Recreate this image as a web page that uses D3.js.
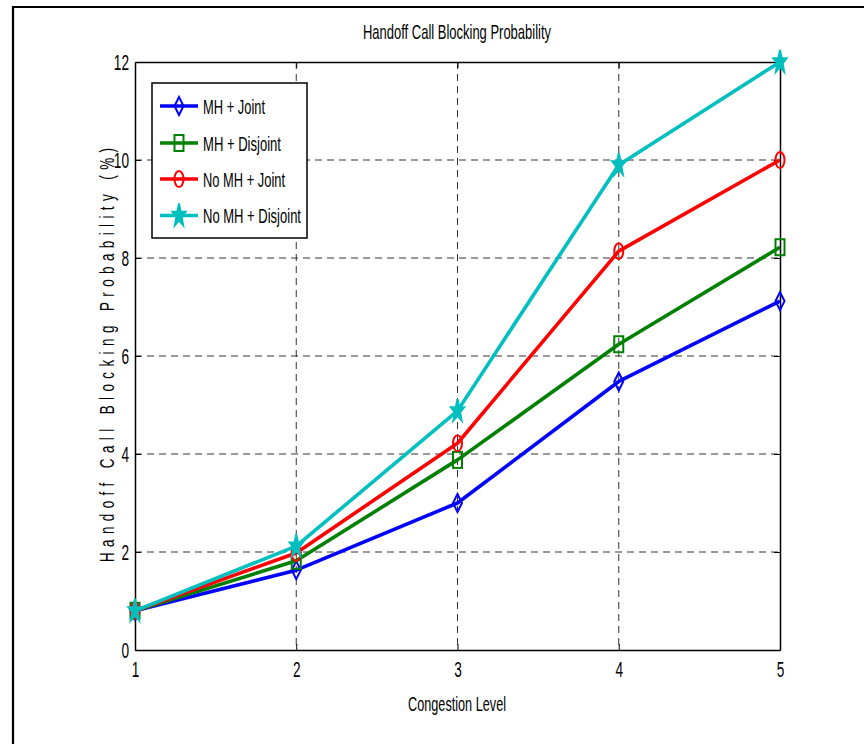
<!DOCTYPE html>
<html>
<head>
<meta charset="utf-8">
<script src="https://cdn.jsdelivr.net/npm/d3@7"></script>
<style>
  html, body { margin: 0; padding: 0; background: #fff; }
  svg { display: block; }
  text { font-family: "Liberation Sans", Arial, sans-serif; fill: #000; }
</style>
</head>
<body>
<svg id="chart" width="864" height="744"></svg>
<script>
// Congestion levels on the x axis
const congestionLevels = [1, 2, 3, 4, 5];

// Handoff call blocking probability (%) for each scheme
const mhJoint       = [0.8, 1.63, 3.0, 5.48, 7.12];
const mhDisjoint    = [0.8, 1.82, 3.88, 6.24, 8.22];
const noMhJoint     = [0.8, 1.98, 4.22, 8.14, 10.0];
const noMhDisjoint  = [0.8, 2.12, 4.88, 9.9, 12.0];

const seriesNames   = ["MH + Joint", "MH + Disjoint", "No MH + Joint", "No MH + Disjoint"];
const seriesValues  = [mhJoint, mhDisjoint, noMhJoint, noMhDisjoint];
const seriesColors  = ["#0000ff", "#008000", "#ff0000", "#00bfbf"];
const seriesMarkers = ["diamond", "square", "circle", "star"];

const xTicks = [1, 2, 3, 4, 5];
const yTicks = [0, 2, 4, 6, 8, 10, 12];

const titleText  = "Handoff Call Blocking Probability";
const xLabelText = "Congestion Level";
const yLabelText = "Handoff Call Blocking Probability (%)";

const svg = d3.select("#chart");
const plotLeft = 135, plotRight = 780, plotTop = 62, plotBottom = 650;
const squeeze = 0.62;   // condensed glyph width

const x = d3.scaleLinear().domain([1, 5]).range([plotLeft, plotRight]);
const y = d3.scaleLinear().domain([0, 12]).range([plotBottom, plotTop]);

// outer frame (left and top edges)
svg.append("line").attr("x1", 13).attr("x2", 13).attr("y1", 6).attr("y2", 744)
  .attr("stroke", "#000").attr("stroke-width", 2.2);
svg.append("line").attr("x1", 12).attr("x2", 864).attr("y1", 7).attr("y2", 7)
  .attr("stroke", "#000").attr("stroke-width", 2.2);

// dashed grid
const grid = svg.append("g");
grid.selectAll(".gx").data(xTicks.slice(1, -1)).join("line")
  .attr("x1", d => x(d)).attr("x2", d => x(d)).attr("y1", plotTop).attr("y2", plotBottom)
  .attr("stroke", "#333").attr("stroke-width", 1).attr("stroke-dasharray", "7,5");
grid.selectAll(".gy").data(yTicks.slice(1, -1)).join("line")
  .attr("x1", plotLeft).attr("x2", plotRight).attr("y1", d => y(d)).attr("y2", d => y(d))
  .attr("stroke", "#333").attr("stroke-width", 1).attr("stroke-dasharray", "7,5");

// axes with inward ticks
const axisStyle = g => {
  g.select(".domain").attr("stroke", "#000").attr("stroke-width", 1.5);
  g.selectAll(".tick line").attr("stroke", "#000");
  g.selectAll(".tick text").attr("font-size", 22)
    .attr("font-family", "'Liberation Sans', Arial, sans-serif").attr("fill", "#000");
};
const yAxis = svg.append("g").attr("transform", `translate(${plotLeft},0)`)
  .call(d3.axisLeft(y).tickValues(yTicks).tickSizeInner(-6).tickSizeOuter(0).tickPadding(6)
    .tickFormat(d3.format("d")))
  .call(axisStyle);
yAxis.selectAll(".tick text").attr("transform", function () {
  const tx = +d3.select(this).attr("x");
  return `translate(${tx},0) scale(${squeeze},1) translate(${-tx},0)`;
});
const xAxis = svg.append("g").attr("transform", `translate(0,${plotBottom})`)
  .call(d3.axisBottom(x).tickValues(xTicks).tickSizeInner(-6).tickSizeOuter(0).tickPadding(11)
    .tickFormat(d3.format("d")))
  .call(axisStyle);
xAxis.selectAll(".tick text").attr("transform", `scale(${squeeze},1)`);

// top and right axes (box)
svg.append("g").attr("transform", `translate(${plotRight},0)`)
  .call(d3.axisRight(y).tickValues(yTicks).tickSizeInner(-6).tickSizeOuter(0).tickFormat(""))
  .call(axisStyle);
svg.append("g").attr("transform", `translate(0,${plotTop})`)
  .call(d3.axisTop(x).tickValues(xTicks).tickSizeInner(-6).tickSizeOuter(0).tickFormat(""))
  .call(axisStyle);

// marker shapes (tall, narrow)
function drawMarker(g, type, color) {
  let shape;
  if (type === "diamond") {
    shape = g.append("path").attr("d", "M0,-9 L4.5,0 L0,9 L-4.5,0 Z").attr("fill", "none");
  } else if (type === "square") {
    shape = g.append("rect").attr("x", -4.5).attr("y", -8).attr("width", 9).attr("height", 16)
      .attr("fill", "none");
  } else if (type === "circle") {
    shape = g.append("ellipse").attr("rx", 4.5).attr("ry", 8).attr("fill", "none");
  } else {
    const pts = [];
    for (let i = 0; i < 10; i++) {
      const a = -Math.PI / 2 + i * Math.PI / 5;
      const r = i % 2 === 0 ? 1 : 0.4;
      pts.push([Math.cos(a) * r * 7, Math.sin(a) * r * 12]);
    }
    shape = g.append("path").attr("d", "M" + pts.map(p => p.join(",")).join("L") + "Z")
      .attr("fill", color);
  }
  shape.attr("stroke", color).attr("stroke-width", 2);
}

// series lines with markers
const line = d3.line().x((d, i) => x(congestionLevels[i])).y(d => y(d));
seriesValues.forEach((vals, s) => {
  const g = svg.append("g");
  g.append("path").datum(vals).attr("d", line)
    .attr("fill", "none").attr("stroke", seriesColors[s]).attr("stroke-width", 3.6)
    .attr("stroke-linejoin", "round");
  vals.forEach((v, i) => {
    const m = g.append("g").attr("transform", `translate(${x(congestionLevels[i])},${y(v)})`);
    drawMarker(m, seriesMarkers[s], seriesColors[s]);
  });
});

// condensed text helper
function label(parent, str, px, py, size, length, anchor) {
  const g = parent.append("g").attr("transform", `translate(${px},${py})`);
  g.append("text").attr("font-size", size).attr("text-anchor", anchor || "start")
    .attr("textLength", length).attr("lengthAdjust", "spacingAndGlyphs").text(str);
  return g;
}

// titles
label(svg, titleText, 457, 39, 21, 188, "middle");
label(svg, xLabelText, 457, 711, 21, 98, "middle");
{
  // letter-spaced, narrow-glyph vertical label
  const g = svg.append("g").attr("transform", "translate(114,355) rotate(-90)");
  g.append("text").attr("font-size", 21).attr("text-anchor", "middle")
    .attr("transform", "scale(0.64,1)")
    .attr("textLength", 414 / 0.64).attr("lengthAdjust", "spacing")
    .text(yLabelText);
}

// legend
const legend = svg.append("g");
legend.append("rect").attr("x", 152).attr("y", 83).attr("width", 155).attr("height", 155)
  .attr("fill", "#fff").attr("stroke", "#000").attr("stroke-width", 1.5);
const legendRows = [106, 143, 179, 215.5];
const legendWidths = [62, 78, 82, 98];
seriesNames.forEach((name, s) => {
  const ly = legendRows[s];
  legend.append("line").attr("x1", 160).attr("x2", 198).attr("y1", ly).attr("y2", ly)
    .attr("stroke", seriesColors[s]).attr("stroke-width", 3.6);
  const m = legend.append("g").attr("transform", `translate(179,${ly})`);
  drawMarker(m, seriesMarkers[s], seriesColors[s]);
  label(legend, name, 203, ly + 7.5, 21, legendWidths[s], "start");
});
</script>
</body>
</html>
